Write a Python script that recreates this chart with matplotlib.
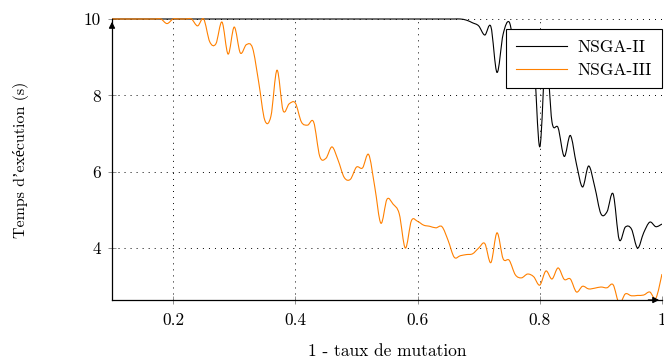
import matplotlib
matplotlib.use("Agg")
import matplotlib.pyplot as plt
import numpy as np
from matplotlib.path import Path
from matplotlib.patches import PathPatch, Rectangle
from matplotlib.lines import Line2D

plt.rcParams['font.family'] = ['cmr10', 'Liberation Serif', 'DejaVu Serif']
plt.rcParams['axes.formatter.use_mathtext'] = True

# taux de mutation, pas de 0.01 (0.10 ... 1.00)
taux = np.round(np.arange(0.10, 1.0001, 0.01), 2)

# valeurs (temps plafonne a 10 s)
nsga2 = [10, 10, 10, 10, 10, 10, 10, 10, 10, 10,
         10, 10, 10, 10, 10, 10, 10, 10, 10, 10,
         10, 10, 10, 10, 10, 10, 10, 10, 10, 10,
         10, 10, 10, 10, 10, 10, 10, 10, 10, 10,
         10, 10, 10, 10, 10, 10, 10, 10, 10, 10,
         10, 10, 10, 10, 10, 10, 10, 10, 9.97, 9.9,
         9.82, 9.58, 9.8, 8.6, 9.6, 9.92, 9.2, 9.5, 9.0, 9.0,
         6.65, 9.1, 7.3, 7.15, 6.4, 6.95, 6.2, 5.6, 6.15, 5.6,
         4.9, 4.95, 5.42, 4.22, 4.55, 4.5, 4.0, 4.4, 4.68, 4.56,
         4.63]

nsga3 = [10, 10, 10, 10, 10, 10, 10, 10, 10, 9.88,
         10, 10, 10, 10, 9.82, 10, 9.4, 9.35, 9.92, 9.08,
         9.79, 9.11, 9.33, 9.24, 8.35, 7.35, 7.45, 8.66, 7.6, 7.78,
         7.8, 7.3, 7.22, 7.3, 6.4, 6.35, 6.65, 6.3, 5.85, 5.8,
         6.12, 6.1, 6.45, 5.6, 4.65, 5.28, 5.15, 4.9, 4.0, 4.72,
         4.7, 4.6, 4.57, 4.53, 4.56, 4.2, 3.76, 3.8, 3.83, 3.85,
         4.0, 4.12, 3.62, 4.4, 3.72, 3.68, 3.3, 3.22, 3.32, 3.25,
         3.03, 3.4, 3.19, 3.48, 3.18, 3.19, 2.85, 3.0, 2.93, 2.95,
         2.98, 2.96, 3.04, 2.55, 2.8, 2.75, 2.76, 2.77, 2.85, 2.69,
         3.32]

xticks = [0.2, 0.4, 0.6, 0.8, 1.0]
xtick_labels = ['0.2', '0.4', '0.6', '0.8', '1']
yticks = [4, 6, 8, 10]
ytick_labels = ['4', '6', '8', '10']

FS = 12.5


def smooth(x, y):
    # courbe de Bezier passant par les points (type "smooth" de pgfplots)
    p = np.column_stack([x, y])
    n = len(p)
    verts = [p[0]]
    codes = [Path.MOVETO]
    for i in range(n - 1):
        p0 = p[max(i - 1, 0)]
        p1 = p[i]
        p2 = p[i + 1]
        p3 = p[min(i + 2, n - 1)]
        verts += [p1 + (p2 - p0) / 6, p2 - (p3 - p1) / 6, p2]
        codes += [Path.CURVE4] * 3
    return Path(verts, codes)


fig = plt.figure(figsize=(6.64, 3.64), dpi=100)
ax = fig.add_axes([112 / 664, 1 - 300 / 364, 550 / 664, 281 / 364])

ax.set_xlim(0.1, 1.0)
ax.set_ylim(2.64, 10)

clip = Rectangle((0, 0), 1, 1.01, transform=ax.transAxes, visible=False)
ax.add_patch(clip)
for serie, col in [(nsga2, 'black'), (nsga3, '#ff8000')]:
    pp = ax.add_patch(PathPatch(smooth(taux, serie), fill=False, edgecolor=col, lw=0.8))
    pp.set_clip_path(clip)

ax.set_xticks(xticks)
ax.set_xticklabels(xtick_labels)
ax.set_yticks(yticks)
ax.set_yticklabels(ytick_labels)
ax.tick_params(direction='inout', length=6, width=0.6, color='#808080',
               labelsize=FS, pad=5)
ax.tick_params(axis='x', pad=6)
ax.grid(True, linestyle=(0, (1, 5.2)), color='black', lw=0.7)
ax.set_axisbelow(True)

for s in ['top', 'right']:
    ax.spines[s].set_visible(False)
for s in ['left', 'bottom']:
    ax.spines[s].set_linewidth(0.9)

ax.annotate('', xy=(0, 1.0), xytext=(0, 0.96), xycoords='axes fraction',
            arrowprops=dict(arrowstyle='-|>', color='black', lw=0.9, mutation_scale=9))
ax.annotate('', xy=(1.0, 0), xytext=(0.97, 0), xycoords='axes fraction',
            arrowprops=dict(arrowstyle='-|>', color='black', lw=0.9, mutation_scale=9))

ax.set_xlabel('1 - taux de mutation', fontsize=FS)
ax.set_ylabel('Temps d\u2019exécution (s)', fontsize=11.5)
ax.xaxis.set_label_coords(0.5, -0.155)
ax.yaxis.set_label_coords(-0.15, 0.5)

h1 = Line2D([], [], color='black', lw=0.8)
h2 = Line2D([], [], color='#ff8000', lw=0.8)
leg = ax.legend([h1, h2], ['NSGA-II', 'NSGA-III'], loc='upper right',
                bbox_to_anchor=(1.0, 0.965), borderaxespad=0, fancybox=False,
                framealpha=1, edgecolor='black', fontsize=FS,
                handlelength=2.9, handletextpad=0.6, borderpad=0.6,
                labelspacing=0.45)
leg.get_frame().set_linewidth(0.8)

fig.savefig('out.png', dpi=100)
